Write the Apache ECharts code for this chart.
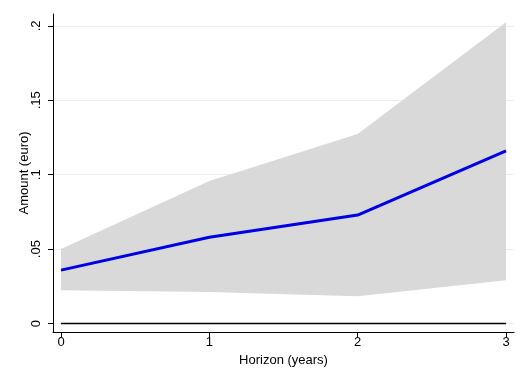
<!DOCTYPE html>
<html><head><meta charset="utf-8">
<script src="https://cdn.jsdelivr.net/npm/echarts@6/dist/echarts.min.js"></script>
<style>html,body{margin:0;padding:0;background:#fff}#c{width:528px;height:384px}</style>
</head><body><div id="c"></div>
<script>
const horizons = [0, 1, 2, 3];
const estimate = [0.0359, 0.0580, 0.0729, 0.1160];
const upper = [0.0500, 0.0958, 0.1274, 0.2025];
const lower = [0.0224, 0.0211, 0.0184, 0.0291];
const yTicks = [0, 0.05, 0.1, 0.15, 0.2];
const yTickLabels = ['0', '.05', '.1', '.15', '.2'];
const xTicks = [0, 1, 2, 3];

const font = 'Liberation Sans, Arial, sans-serif';
const chart = echarts.init(document.getElementById('c'));
chart.setOption({
  animation: false,
  grid: {left: 53, right: 14, top: 14, bottom: 52, containLabel: false},
  xAxis: {
    type: 'value', min: -0.054, max: 3.054,
    name: 'Horizon (years)', nameLocation: 'middle', nameGap: 20,
    nameTextStyle: {fontFamily: font, fontSize: 13, color: '#000'},
    axisLine: {show: true, onZero: false, lineStyle: {color: '#000', width: 1}},
    axisTick: {show: true, length: 5, customValues: xTicks, lineStyle: {color: '#000'}},
    axisLabel: {customValues: xTicks, fontFamily: font, fontSize: 13, color: '#000', margin: 4,
      formatter: v => String(v)},
    splitLine: {show: false}
  },
  yAxis: {
    type: 'value', min: -0.0057, max: 0.208,
    name: 'Amount (euro)', nameLocation: 'middle', nameGap: 22,
    nameMoveOverlap: false,
    nameTextStyle: {fontFamily: font, fontSize: 13, color: '#000'},
    axisLine: {show: true, onZero: false, lineStyle: {color: '#000', width: 1}},
    axisTick: {show: true, length: 5, customValues: yTicks, lineStyle: {color: '#000'}},
    axisLabel: {customValues: yTicks, rotate: 90, fontFamily: font, fontSize: 13, color: '#000', margin: 10,
      formatter: v => yTickLabels[yTicks.findIndex(t => Math.abs(t - v) < 1e-9)] ?? ''},
    splitLine: {show: true, lineStyle: {color: '#eaf0f1', width: 1}}
  },
  series: [
    {type: 'custom', silent: true, z: 1,
      data: [0],
      renderItem: (params, api) => {
        const pts = [];
        horizons.forEach((h, i) => pts.push(api.coord([h, upper[i]])));
        for (let i = horizons.length - 1; i >= 0; i--) pts.push(api.coord([horizons[i], lower[i]]));
        return {type: 'polygon', shape: {points: pts}, style: {fill: '#d9d9d9'}};
      }},
    {type: 'line', z: 2, data: horizons.map(h => [h, 0]), symbol: 'none',
      lineStyle: {color: '#000', width: 1.6}},
    {type: 'line', z: 3, data: horizons.map((h, i) => [h, estimate[i]]), symbol: 'none',
      lineStyle: {color: '#0000e6', width: 3}}
  ]
});
</script></body></html>
